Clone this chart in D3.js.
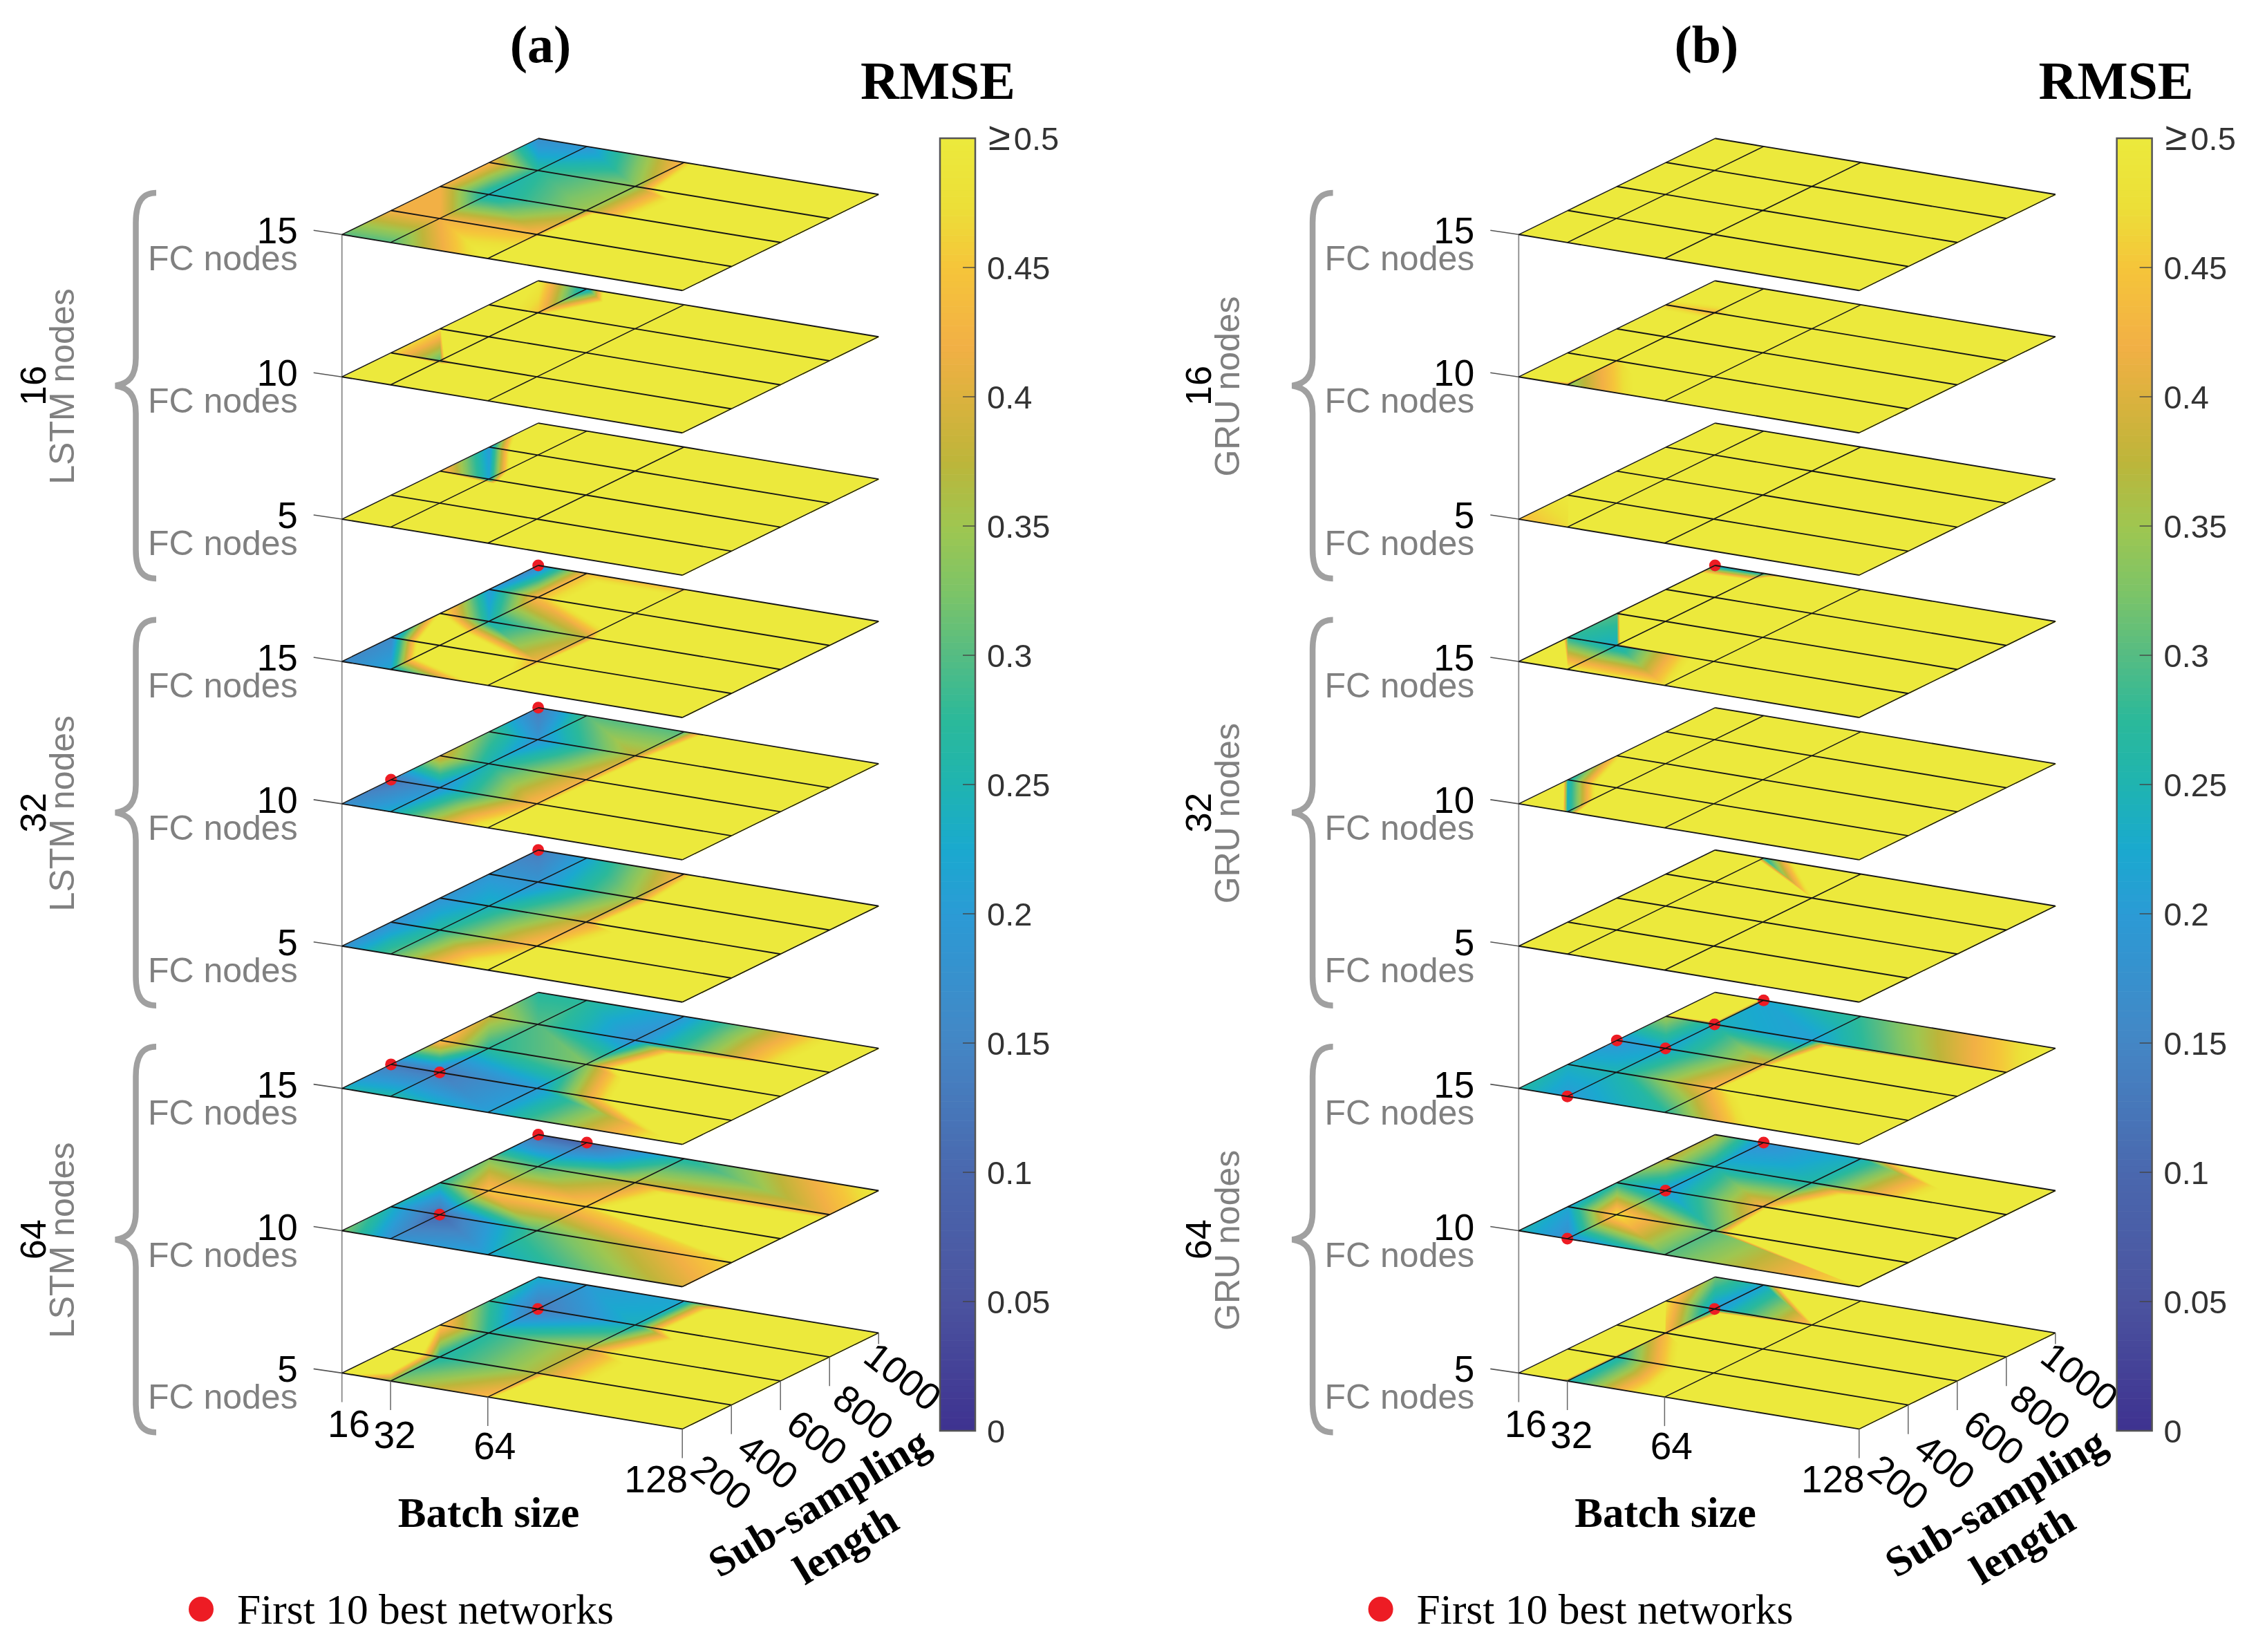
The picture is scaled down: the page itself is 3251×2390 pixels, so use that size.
<!DOCTYPE html>
<html>
<head>
<meta charset="utf-8">
<script src="https://cdn.jsdelivr.net/npm/d3@7"></script>
<style>
  html, body { margin: 0; padding: 0; background: #fff; }
  #chart { position: relative; width: 3251px; height: 2390px; }
  canvas, svg { position: absolute; left: 0; top: 0; }
</style>
</head>
<body>
<div id="chart"></div>
<script>
// axes
var batchSizes = [16, 32, 64, 128];
var lengths = [1000, 800, 600, 400, 200];
var fcNodes = [15, 10, 5];
var rnnNodes = [16, 32, 64];
var rmseTicks = [0, 0.05, 0.1, 0.15, 0.2, 0.25, 0.3, 0.35, 0.4, 0.45];

// RMSE at the grid nodes, rows are lengths, columns are batch sizes.
// anything over 0.5 is only seen as yellow but it sets how narrow the orange band is
var lstm16fc15 = [[.17,.19,.44,3],[.43,.27,.34,1.8],[.42,.24,.35,1],[.42,.42,.44,3],[.3,.3,.52,3]];
var lstm16fc10 = [[.5,.22,1.9,3],[.55,.45,1.07,3],[.47,2.4,3,3],[.47,.3,1.5,3],[.49,3,3,3]];
var lstm16fc5  = [[.77,3,3,3],[.2,.9,3,3],[.46,.22,3,3],[.9,3,3,3],[3,3,3,3]];
var lstm32fc15 = [[.15,.44,.44,.46],[.2,.44,.7,3],[.5,.24,.38,3],[.16,.78,.42,3],[.16,.22,.55,3]];
var lstm32fc10 = [[.13,.3,.3,2.3],[.3,.19,.38,2.5],[.4,.25,.42,2.5],[.12,.19,.44,2.5],[.17,.23,.52,3]];
var lstm32fc5  = [[.13,.22,.43,3],[.19,.185,.36,2],[.185,.24,.4,2],[.18,.27,.45,.93],[.18,.3,.55,3]];
var lstm64fc15 = [[.27,.27,.2,.6],[.38,.3,.18,.6],[.45,.27,.33,1.5],[.13,.13,.2,1],[.25,.26,.21,.55]];
var lstm64fc10 = [[.1,.1,.26,.5],[.33,.3,.38,.42],[.27,.45,.46,1],[.24,.1,.3,.47],[.33,.18,.22,.4]];
var lstm64fc5  = [[.23,.2,.22,1.2],[.28,.13,.24,2],[.46,.27,.38,1.2],[.9,.26,.37,.84],[.52,.33,.44,3]];

var gru16fc15 = [[3,3,3,3],[3,3,3,3],[3,3,3,3],[3,3,3,3],[3,3,3,3]];
var gru16fc10 = [[.7,.7,2,3],[.45,.43,.93,3],[.8,.75,2,3],[2,.46,1,3],[.5,.33,.58,3]];
var gru16fc5  = [[3,3,3,3],[3,3,3,3],[3,3,3,3],[.5,3,3,3],[.44,.47,3,3]];
var gru32fc15 = [[.2,.25,1.5,3],[1.2,1.2,3,3],[.3,4,3,3],[.27,.23,.58,3],[3,.5,.48,3]];
var gru32fc10 = [[3,3,3,3],[1.5,3,3,3],[.46,2,3,3],[.24,.7,3,3],[3,.24,3,3]];
var gru32fc5  = [[3,.25,1.08,3],[3,3,.49,3],[3,3,3,3],[3,3,3,3],[3,3,3,3]];
var gru64fc15 = [[3,.22,.28,.52],[.35,.24,.21,.46],[.19,.22,.4,3],[.24,.25,.44,3],[.26,.2,.27,.8]];
var gru64fc10 = [[.37,.18,.24,1.54],[.38,.24,.26,.72],[.27,.2,.43,1.35],[.22,.48,.3,3],[.25,.17,.3,.49]];
var gru64fc5  = [[.32,.22,1.87,3],[.48,.2,.46,3],[3,.44,3,3],[3,.25,.66,3],[1.5,.24,.58,3]];

// first 10 best networks: plane index, batch size, length
var lstmBest = [[3,16,1000],[4,16,1000],[4,16,400],[5,16,1000],[6,16,400],[6,32,400],[7,16,1000],[7,32,1000],[7,32,400],[8,32,800]];
var gruBest = [[3,16,1000],[6,32,1000],[6,32,800],[6,16,600],[6,32,600],[6,32,200],[7,32,1000],[7,32,600],[7,32,200],[8,32,800]];

// colour bar
var rampValues = [0, .05, .1, .15, .2, .225, .25, .275, .3, .325, .35, .375, .4, .42, .45, .475, .5];
var rampColors = ["#3e3290", "#4b539f", "#4a68ae", "#4486c5", "#2b9bd5", "#1aa9cf", "#1fb4b0", "#2bb99a",
    "#55bc83", "#7dc467", "#9fc650", "#bdb53a", "#dcb23e", "#f2b045", "#f5c53a", "#ece038", "#ece93c"];

var W = 3251, H = 2390;

var options = {
    planeTop: 339.3,
    planeBottom: 1986.4,
    batchVec: [492.5, 81],
    lenVec: [284, -139],
    barLeft: 1360,
    barRight: 1411,
    barTop: 200,
    barBottom: 2070
};

var color = d3.scaleLinear().domain(rampValues).range(rampColors).clamp(true);
var batchScale = d3.scaleLinear().domain([16, 128]).range([0, 1]);
var lenScale = d3.scaleLinear().domain([200, 1000]).range([0, 1]);
var planeScale = d3.scaleLinear().domain([0, 8]).range([options.planeTop, options.planeBottom]);
var barScale = d3.scaleLinear().domain([0, 0.5]).range([options.barBottom, options.barTop]);

// colour table so the pixel loop does not call the scale every time
var LUT = d3.range(0, 1001).map(function(i) {
    return d3.rgb(color(i / 2000));
});

function project(panelX, plane, batch, len) {
    var b = batchScale(batch), l = lenScale(len);
    return [
        panelX + b * options.batchVec[0] + l * options.lenVec[0],
        planeScale(plane) + b * options.batchVec[1] + l * options.lenVec[1]
    ];
}

var chart = d3.select("#chart");
var canvas = chart.append("canvas").attr("width", W).attr("height", H).node();
var ctx = canvas.getContext("2d");
var image = ctx.createImageData(W, H);
var svg = chart.append("svg").attr("width", W).attr("height", H);
var line = d3.line();

function fillTriangle(p0, p1, p2, v0, v1, v2) {
    var minX = Math.floor(Math.min(p0[0], p1[0], p2[0])), maxX = Math.ceil(Math.max(p0[0], p1[0], p2[0]));
    var minY = Math.floor(Math.min(p0[1], p1[1], p2[1])), maxY = Math.ceil(Math.max(p0[1], p1[1], p2[1]));
    var den = (p1[1] - p2[1]) * (p0[0] - p2[0]) + (p2[0] - p1[0]) * (p0[1] - p2[1]);
    for (var y = minY; y <= maxY; y++) {
        for (var x = minX; x <= maxX; x++) {
            var a = ((p1[1] - p2[1]) * (x - p2[0]) + (p2[0] - p1[0]) * (y - p2[1])) / den;
            var b = ((p2[1] - p0[1]) * (x - p2[0]) + (p0[0] - p2[0]) * (y - p2[1])) / den;
            var c = 1 - a - b;
            if (a < -0.002 || b < -0.002 || c < -0.002) continue;
            var v = a * v0 + b * v1 + c * v2;
            var k = Math.max(0, Math.min(1000, Math.round(v * 2000)));
            var col = LUT[k], i = (y * W + x) * 4;
            image.data[i] = col.r; image.data[i + 1] = col.g; image.data[i + 2] = col.b; image.data[i + 3] = 255;
        }
    }
}

function drawPanel(cfg) {
    var g = svg.append("g");
    var px = cfg.x;

    // axis lines under the planes
    g.append("path")
        .attr("d", line([[px, planeScale(0)], [px, planeScale(8) + 42]]))
        .attr("stroke", "#8a8a8a").attr("stroke-width", 1.8).attr("fill", "none");

    cfg.planes.forEach(function(values, plane) {
        // surface, each cell is split on the same diagonal as the original patch
        for (var r = 0; r < lengths.length - 1; r++) {
            for (var c = 0; c < batchSizes.length - 1; c++) {
                var tl = project(px, plane, batchSizes[c], lengths[r]);
                var tr = project(px, plane, batchSizes[c + 1], lengths[r]);
                var bl = project(px, plane, batchSizes[c], lengths[r + 1]);
                var br = project(px, plane, batchSizes[c + 1], lengths[r + 1]);
                fillTriangle(tl, tr, br, values[r][c], values[r][c + 1], values[r + 1][c + 1]);
                fillTriangle(tl, bl, br, values[r][c], values[r + 1][c], values[r + 1][c + 1]);
            }
        }

        // z tick
        var y0 = planeScale(plane);
        g.append("path")
            .attr("d", line([[px, y0], [px - 41, y0 - 6]]))
            .attr("stroke", "#555").attr("stroke-width", 1.6).attr("fill", "none");

        g.append("text")
            .attr("x", px - 64).attr("y", y0 + 13)
            .attr("text-anchor", "end")
            .style("font", "53px 'Liberation Sans'")
            .text(fcNodes[plane % 3]);

        g.append("text")
            .attr("x", px - 64).attr("y", y0 + 52)
            .attr("text-anchor", "end")
            .attr("fill", "#808080")
            .style("font", "50px 'Liberation Sans'")
            .text("FC nodes");
    });

    // best network dots go under the grid lines
    g.selectAll("circle.best").data(cfg.best).enter().append("circle")
        .attr("class", "best")
        .attr("cx", function(d) { return project(px, d[0], d[1], d[2])[0]; })
        .attr("cy", function(d) { return project(px, d[0], d[1], d[2])[1]; })
        .attr("r", 8.5)
        .attr("fill", "#ed1c24");

    cfg.planes.forEach(function(values, plane) {
        lengths.forEach(function(len) {
            g.append("path")
                .attr("d", line(batchSizes.map(function(b) { return project(px, plane, b, len); })))
                .attr("stroke", "#161616").attr("stroke-width", 1.9).attr("fill", "none");
        });
        batchSizes.forEach(function(b) {
            g.append("path")
                .attr("d", line(lengths.map(function(len) { return project(px, plane, b, len); })))
                .attr("stroke", "#161616").attr("stroke-width", 1.5).attr("fill", "none");
        });
    });

    // batch size ticks and labels
    var batchLabelPos = [[10, 93], [6, 97], [10, 90], [-38, 92]];
    batchSizes.forEach(function(b, i) {
        var p = project(px, 8, b, 200);
        if (i > 0) {
            g.append("path").attr("d", line([p, [p[0], p[1] + 42]]))
                .attr("stroke", "#666").attr("stroke-width", 1.5).attr("fill", "none");
        }
        g.append("text")
            .attr("x", p[0] + batchLabelPos[i][0]).attr("y", p[1] + batchLabelPos[i][1])
            .attr("text-anchor", "middle")
            .style("font", "55px 'Liberation Sans'")
            .text(b);
    });

    // length ticks and labels, labels are turned along the axis
    var lenTickLen = [16, 42, 42, 42, 0];
    var lenLabelPos = [[35, 63], [49, 80], [53, 82], [53, 82], [57, 77]];
    lengths.forEach(function(len, i) {
        var p = project(px, 8, 128, len);
        if (lenTickLen[i] > 0) {
            g.append("path").attr("d", line([p, [p[0], p[1] + lenTickLen[i]]]))
                .attr("stroke", "#666").attr("stroke-width", 1.5).attr("fill", "none");
        }
        g.append("text")
            .attr("transform", "translate(" + (p[0] + lenLabelPos[i][0]) + "," + (p[1] + lenLabelPos[i][1]) + ") rotate(38)")
            .attr("text-anchor", "middle")
            .attr("dominant-baseline", "central")
            .style("font", "55px 'Liberation Sans'")
            .text(len);
    });

    // braces with the group labels
    rnnNodes.forEach(function(n, i) {
        var dy = i * (planeScale(3) - planeScale(0));
        g.append("path")
            .attr("transform", "translate(" + (px - 494.7) + "," + dy + ")")
            .attr("d", "M226,279 C206,279 196.500,292 196.500,322 L196.500,518 C196.500,545 186,555 167,558 C186,561 196.500,571 196.500,598 L196.500,795 C196.500,825 206,837 226,837")
            .attr("fill", "none").attr("stroke", "#a0a0a0").attr("stroke-width", 8.5);

        g.append("text")
            .attr("transform", "translate(" + (px - 428.7 + cfg.sideShift) + "," + (558 + dy) + ") rotate(-90)")
            .attr("text-anchor", "middle")
            .style("font", "52px 'Liberation Sans'")
            .text(n);

        g.append("text")
            .attr("transform", "translate(" + (px - 387.7 + cfg.sideShift) + "," + (559 + dy) + ") rotate(-90)")
            .attr("text-anchor", "middle")
            .attr("fill", "#808080")
            .style("font", "50px 'Liberation Sans'")
            .text(cfg.cell + " nodes");
    });

    // colour bar
    var ox = cfg.x - 494.7;
    var barSteps = d3.range(0, 0.5, 0.0025);
    g.selectAll("rect.bar").data(barSteps).enter().append("rect")
        .attr("class", "bar")
        .attr("x", options.barLeft + ox)
        .attr("width", options.barRight - options.barLeft)
        .attr("y", function(d) { return barScale(d + 0.0025); })
        .attr("height", function(d) { return barScale(d) - barScale(d + 0.0025) + 0.6; })
        .attr("fill", function(d) { return color(d + 0.00125); });
    g.append("rect")
        .attr("x", options.barLeft + ox).attr("y", options.barTop)
        .attr("width", options.barRight - options.barLeft)
        .attr("height", options.barBottom - options.barTop)
        .attr("fill", "none").attr("stroke", "#555").attr("stroke-width", 2.5);

    rmseTicks.forEach(function(t) {
        if (t > 0) {
            g.append("path")
                .attr("d", line([[options.barRight + ox - 18, barScale(t)], [options.barRight + ox, barScale(t)]]))
                .attr("stroke", "#444").attr("stroke-width", 1.4).attr("fill", "none");
        }
        g.append("text")
            .attr("x", 1428 + ox).attr("y", barScale(t) + 17)
            .attr("fill", "#333")
            .style("font", "47px 'Liberation Sans'")
            .text(t);
    });
    var topLabel = g.append("text")
        .attr("x", 1430 + ox).attr("y", barScale(0.5) + 17)
        .attr("fill", "#333")
        .style("font", "47px 'Liberation Sans'");
    topLabel.append("tspan").style("font-size", "58px").text("\u2265");
    topLabel.append("tspan").attr("dx", 5).text("0.5");

    // titles
    g.append("text")
        .attr("x", cfg.titleX).attr("y", 90)
        .attr("text-anchor", "middle")
        .style("font", "bold 76px 'Liberation Serif'")
        .text(cfg.title);

    g.append("text")
        .attr("x", 1245 + ox + cfg.rmseShift).attr("y", 143)
        .style("font", "bold 77.500px 'Liberation Serif'")
        .text("RMSE");

    g.append("text")
        .attr("x", 707 + ox).attr("y", 2209)
        .attr("text-anchor", "middle")
        .style("font", "bold 61px 'Liberation Serif'")
        .text("Batch size");

    g.append("text")
        .attr("transform", "translate(" + (1195 + ox) + ",2191) rotate(-31)")
        .attr("text-anchor", "middle")
        .style("font", "bold 61px 'Liberation Serif'")
        .text("Sub-sampling");

    g.append("text")
        .attr("transform", "translate(" + (1234 + ox) + ",2252) rotate(-31)")
        .attr("text-anchor", "middle")
        .style("font", "bold 61px 'Liberation Serif'")
        .text("length");

    // legend
    g.append("circle")
        .attr("cx", 291 + ox + cfg.legendShift).attr("cy", 2328).attr("r", 18)
        .attr("fill", "#ed1c24");
    g.append("text")
        .attr("x", 343 + ox + cfg.legendShift).attr("y", 2349)
        .style("font", "61.500px 'Liberation Serif'")
        .text("First 10 best networks");
}

drawPanel({
    x: 494.7,
    title: "(a)",
    titleX: 782,
    rmseShift: 0,
    legendShift: 0,
    sideShift: 0,
    cell: "LSTM",
    best: lstmBest,
    planes: [lstm16fc15, lstm16fc10, lstm16fc5, lstm32fc15, lstm32fc10, lstm32fc5, lstm64fc15, lstm64fc10, lstm64fc5]
});

drawPanel({
    x: 2197.3,
    title: "(b)",
    titleX: 2469,
    rmseShift: 2,
    legendShift: 4,
    sideShift: -17,
    cell: "GRU",
    best: gruBest,
    planes: [gru16fc15, gru16fc10, gru16fc5, gru32fc15, gru32fc10, gru32fc5, gru64fc15, gru64fc10, gru64fc5]
});

ctx.putImageData(image, 0, 0);
</script>
</body>
</html>
